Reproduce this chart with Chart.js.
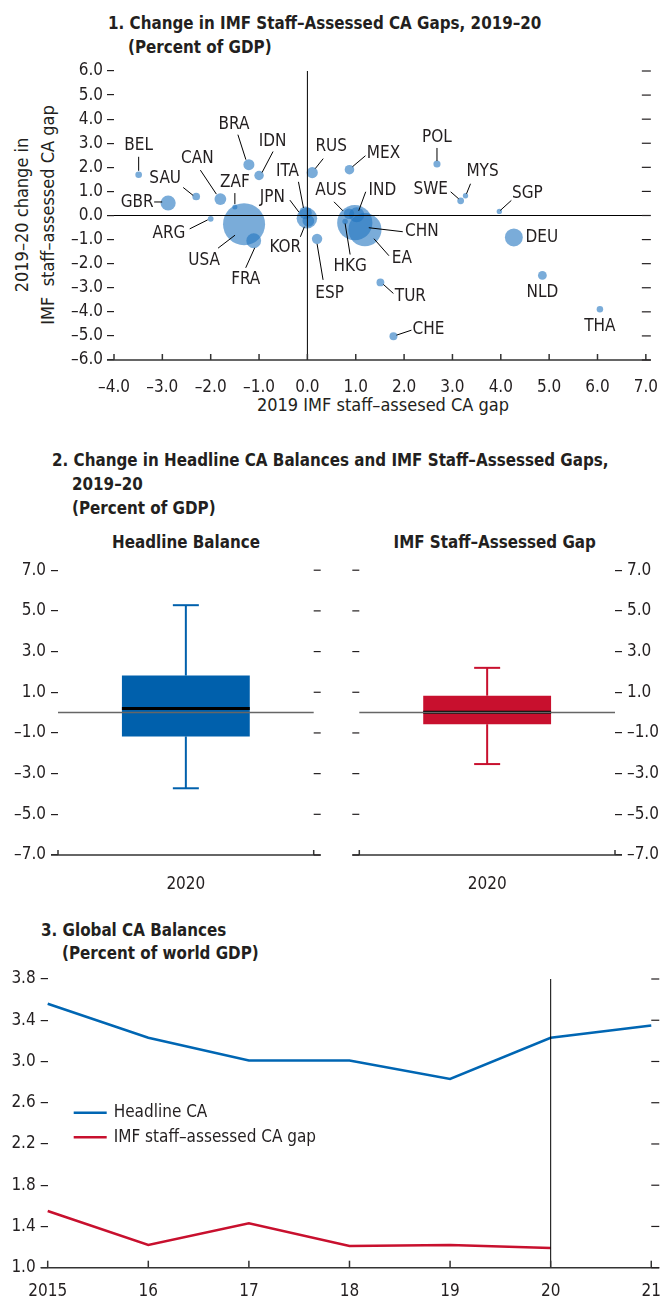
<!DOCTYPE html>
<html><head><meta charset="utf-8">
<script src="https://cdn.jsdelivr.net/npm/chart.js@4.4.1/dist/chart.umd.min.js"></script>
<style>
html,body{margin:0;padding:0;background:#fff;}
body{width:667px;height:1296px;position:relative;overflow:hidden;font-family:'Liberation Sans Narrow','Arial Narrow','DejaVu Sans Condensed',sans-serif;color:#231f20;}
.t{position:absolute;font-weight:bold;font-size:18px;white-space:nowrap;line-height:20px;transform:scaleX(0.935);transform-origin:0 50%;}
.tc{transform-origin:50% 50%;}
.r{position:absolute;font-size:18px;white-space:nowrap;line-height:20px;width:320px;height:20px;text-align:center;transform:rotate(-90deg);}
.c{position:absolute;font-size:18px;white-space:nowrap;line-height:20px;text-align:center;}
canvas{position:absolute;}
</style></head><body>
<div class="t" style="left:108px;top:13px">1. Change in IMF Staff–Assessed CA Gaps, 2019–20</div>
<div class="t" style="left:128px;top:37px">(Percent of GDP)</div>
<div class="r" style="left:-138px;top:205px">2019–20 change in</div>
<div class="r" style="left:-112px;top:205px">IMF&nbsp; staff–assessed CA gap</div>
<div class="c" style="left:183px;width:400px;top:395px">2019 IMF staff–assesed CA gap</div>
<canvas id="c1" width="667" height="420" style="left:0;top:0"></canvas>

<div class="t" style="left:52px;top:450px">2. Change in Headline CA Balances and IMF Staff–Assessed Gaps,</div>
<div class="t" style="left:72px;top:474px">2019–20</div>
<div class="t" style="left:72px;top:498px">(Percent of GDP)</div>
<div class="t tc" style="left:86px;width:200px;text-align:center;top:532px">Headline Balance</div>
<div class="t tc" style="left:387px;width:200px;text-align:center;top:532px">IMF Staff–Assessed Gap</div>
<canvas id="c2a" width="335" height="345" style="left:0;top:555px"></canvas>
<canvas id="c2b" width="332" height="345" style="left:335px;top:555px"></canvas>

<div class="t" style="left:41px;top:920px">3. Global CA Balances</div>
<div class="t" style="left:62px;top:943px">(Percent of world GDP)</div>
<canvas id="c3" width="667" height="336" style="left:0;top:960px"></canvas>

<script>
// ---------- Panel 1 data ----------
const countries = ['BEL','GBR','SAU','CAN','ZAF','BRA','IDN','ARG','USA','FRA','JPN','ITA','KOR','RUS','MEX','AUS','IND','HKG','CHN','EA','ESP','TUR','CHE','POL','SWE','MYS','SGP','DEU','NLD','THA'];
const gap2019 = [-3.49,-2.88,-2.30,-1.80,-1.50,-1.21,-1.00,-2.00,-1.31,-1.11,-0.01,-0.04,0.02,0.10,0.87,0.86,1.02,0.78,0.98,1.19,0.20,1.51,1.78,2.68,3.17,3.27,3.97,4.27,4.86,6.05];
const gapChange = [1.69,0.52,0.79,0.68,0.35,2.11,1.66,-0.14,-0.36,-1.05,-0.11,0.11,-0.22,1.78,1.90,0.07,0.03,-0.25,-0.30,-0.59,-0.97,-2.78,-5.01,2.14,0.61,0.82,0.17,-0.91,-2.49,-3.89];
const gdpWeight = [0.52,2.7,0.7,1.64,0.3,1.44,1.06,0.39,20.9,2.6,5.0,1.9,1.64,1.48,1.08,1.3,2.7,0.35,14.7,13.0,1.28,0.72,0.75,0.6,0.54,0.34,0.34,3.8,0.91,0.5];
const xTicks1 = [-4,-3,-2,-1,0,1,2,3,4,5,6,7];
const yTicks1 = [-6,-5,-4,-3,-2,-1,0,1,2,3,4,5,6];

// ---------- Panel 2 data (min, q1, median, q3, max) ----------
const boxCategory = ['2020'];
const headlineStats = [-3.72,-1.17,0.20,1.82,5.28];
const gapStats = [-2.53,-0.57,0.02,0.83,2.20];

// ---------- Panel 3 data ----------
const years = ['2015','16','17','18','19','20','21'];
const headlineCA = [3.56,3.23,3.01,3.01,2.83,3.23,3.35];
const gapCA = [1.55,1.22,1.43,1.21,1.22,1.19,null];

// ---------- annotation layout (label offset, leader line from/to, px from bubble) ----------
const labelLayout = {
 BEL:[0,-29,0,-18,0,-4], GBR:[-31,0,-14,-1,-6,-1], SAU:[-31,-18,-13,-9,-3,-1], CAN:[-23,-41,-20,-29,-4,-5],
 ZAF:[0,-24,0,-14,0,-3], BRA:[-15,-40,-11,-30,-3,-5], IDN:[13.5,-34,14,-24,3,-3], ARG:[-41.7,15,-21,10,-3,1],
 USA:[-40,36,-26,24,-9,11], FRA:[-8,39,-8,27,1,7], JPN:[-34.6,-20.8,-17,-18,-8,-6], ITA:[-18,-41,-7,-31,-2,-5],
 KOR:[-23,26.5,-8,16,-4,6], RUS:[19,-26,11,-14,3,-4], MEX:[34,-16,16,-14,3,-3], AUS:[-18,-23,-15,-12,-6,-3],
 IND:[25.7,-24,9,-23,2,-4], HKG:[5,45,5,33,0,2], CHN:[67,9,48,9,14,5], EA:[37,29,24,26,9,9],
 ESP:[12.5,54.5,0,5,6,41], TUR:[30,14,3,2,13,11], CHE:[35,-7,3,-1,18,-6], POL:[0,-26,0,-16,0,-3],
 SWE:[-30,-11,-10,-9,-2,-2], MYS:[17,-24,5,-12,1,-2], SGP:[28,-18,12,-11,1,-1], DEU:[28,0], NLD:[0,17], THA:[0,17]
};

const FONT = "'Liberation Sans Narrow','Arial Narrow','DejaVu Sans Condensed',sans-serif";
Chart.defaults.font.family = FONT;
Chart.defaults.font.size = 17;
Chart.defaults.color = '#231f20';
Chart.defaults.animation = false;
Chart.defaults.plugins.legend.display = false;
Chart.defaults.plugins.tooltip.enabled = false;

const fmt = v => (v < 0 ? '–' : '') + Math.abs(v).toFixed(1);
const INK = '#231f20';
function seg(ctx, x1, y1, x2, y2){ ctx.beginPath(); ctx.moveTo(x1,y1); ctx.lineTo(x2,y2); ctx.stroke(); }

// ---------- Panel 1 ----------
const scatterDecor = {
  id:'scatterDecor',
  afterDatasetsDraw(chart){
    const {ctx, chartArea:a, scales:{x,y}} = chart;
    ctx.save();
    ctx.strokeStyle = '#000'; ctx.lineWidth = 1;
    const x0 = x.getPixelForValue(0), y0 = y.getPixelForValue(0);
    seg(ctx, a.left, y0, a.right, y0);
    seg(ctx, x0, a.top, x0, a.bottom);
    ctx.strokeStyle = '#333'; ctx.lineWidth = 1.5;
    seg(ctx, a.left-7, a.bottom, a.right+5, a.bottom);
    x.ticks.forEach(t => { const p = x.getPixelForValue(t.value); seg(ctx, p, a.bottom, p, a.bottom-6); });
    ctx.lineWidth = 1.2; ctx.strokeStyle = INK;
    y.ticks.forEach(t => { const p = y.getPixelForValue(t.value); seg(ctx, a.right-4, p, a.right+5, p); });
    // labels
    const meta = chart.getDatasetMeta(0);
    ctx.font = '17px ' + FONT; ctx.fillStyle = INK; ctx.textAlign = 'center'; ctx.textBaseline = 'middle';
    ctx.strokeStyle = '#000'; ctx.lineWidth = 1;
    countries.forEach((c, i) => {
      const el = meta.data[i]; const L = labelLayout[c]; if (!L) return;
      ctx.fillText(c, el.x + L[0], el.y + L[1]);
      if (L.length > 2) seg(ctx, el.x + L[2], el.y + L[3], el.x + L[4], el.y + L[5]);
    });
    ctx.restore();
  }
};
new Chart(document.getElementById('c1'), {
  type:'bubble',
  data:{ datasets:[{
    data: countries.map((c,i) => ({x:gap2019[i], y:gapChange[i], r:4.6*Math.sqrt(gdpWeight[i])})),
    backgroundColor:'rgba(33,117,192,0.6)', borderWidth:0, hoverRadius:0
  }]},
  options:{
    responsive:false, events:[],
    layout:{padding:{top:71, right:15, left:0, bottom:0}},
    scales:{
      x:{type:'linear', min:-4, max:7, afterFit(s){s.height=60;},
         afterBuildTicks(s){ s.ticks = xTicks1.map(v=>({value:v})); },
         ticks:{callback:fmt, padding:9, maxRotation:0, autoSkip:false},
         grid:{display:false}, border:{display:false}},
      y:{type:'linear', min:-6, max:6, afterFit(s){s.width=114;},
         afterBuildTicks(s){ s.ticks = yTicks1.map(v=>({value:v})); },
         ticks:{callback:fmt, padding:4},
         grid:{drawOnChartArea:false, tickLength:7, color:INK, lineWidth:1.2}, border:{display:false}}
    }
  },
  plugins:[scatterDecor]
});

// ---------- Panel 2 ----------
function boxPlugin(stats, color, side){
  return {
    id:'box'+side,
    afterDatasetsDraw(chart){
      const {ctx, chartArea:a, scales:{x,y}} = chart;
      const el = chart.getDatasetMeta(0).data[0];
      const cx = el.x, hw = el.width/2, cap = 13;
      const [mn,q1,md,q3,mx] = stats.map(v => y.getPixelForValue(v));
      ctx.save();
      ctx.strokeStyle = color; ctx.lineWidth = 2;
      seg(ctx, cx, q3, cx, mx); seg(ctx, cx-cap, mx, cx+cap, mx);
      seg(ctx, cx, q1, cx, mn); seg(ctx, cx-cap, mn, cx+cap, mn);
      ctx.strokeStyle = '#000'; ctx.lineWidth = 3;
      seg(ctx, cx-hw, md, cx+hw, md);
      ctx.strokeStyle = '#666'; ctx.lineWidth = 1.5;
      const z = y.getPixelForValue(0);
      seg(ctx, a.left, z, a.right, z);
      ctx.strokeStyle = '#333'; ctx.lineWidth = 1.5;
      seg(ctx, a.left-7, a.bottom, a.right+7, a.bottom);
      seg(ctx, a.left, a.bottom, a.left, a.bottom-5);
      seg(ctx, a.right, a.bottom, a.right, a.bottom-5);
      ctx.strokeStyle = INK; ctx.lineWidth = 1.2;
      y.ticks.forEach(t => { const p = y.getPixelForValue(t.value);
        if (side === 'left') seg(ctx, a.right, p, a.right+7, p); else seg(ctx, a.left-7, p, a.left, p); });
      ctx.restore();
    }
  };
}
function boxChart(id, stats, color, side, pad){
  new Chart(document.getElementById(id), {
    type:'bar',
    data:{ labels:boxCategory, datasets:[{ data:[[stats[1], stats[3]]], backgroundColor:color,
      borderWidth:0, barPercentage:0.5, categoryPercentage:1 }]},
    options:{
      responsive:false, events:[],
      layout:{padding:pad},
      scales:{
        x:{afterFit(s){s.height=45;}, ticks:{padding:11}, grid:{display:false}, border:{display:false}},
        y:{position:side, min:-7, max:7, afterFit(s){s.width= side==='left'?58:52;},
           ticks:{stepSize:2, callback:fmt, padding:5},
           grid:{drawOnChartArea:false, tickLength:7, color:INK, lineWidth:1.2}, border:{display:false}}
      }
    },
    plugins:[boxPlugin(stats, color, side)]
  });
}
boxChart('c2a', headlineStats, '#0060ac', 'left', {top:12.7, right:21.3, left:0, bottom:0});
boxChart('c2b', gapStats, '#c8102e', 'right', {top:12.7, right:0, left:24.3, bottom:0});

// ---------- Panel 3 ----------
const lineDecor = {
  id:'lineDecor',
  afterDatasetsDraw(chart){
    const {ctx, chartArea:a, scales:{x,y}} = chart;
    ctx.save();
    ctx.strokeStyle = '#000'; ctx.lineWidth = 1;
    const xv = x.getPixelForValue(years.indexOf('20'));
    seg(ctx, xv, a.top, xv, a.bottom);
    ctx.strokeStyle = '#333'; ctx.lineWidth = 1.5;
    seg(ctx, a.left-7, a.bottom, a.right+8, a.bottom);
    years.forEach((yr,i) => { const p = x.getPixelForValue(i); seg(ctx, p, a.bottom, p, a.bottom-7); });
    ctx.strokeStyle = INK; ctx.lineWidth = 1.2;
    y.ticks.forEach(t => { const p = y.getPixelForValue(t.value); seg(ctx, a.right, p, a.right+8, p); });
    // legend
    ctx.font = '17px ' + FONT; ctx.textAlign = 'left'; ctx.textBaseline = 'middle'; ctx.fillStyle = INK;
    chart.data.datasets.forEach((ds, i) => {
      const ly = a.top + 133.7 + i*24.6;
      ctx.strokeStyle = ds.borderColor; ctx.lineWidth = 2.5;
      seg(ctx, a.left + 26, ly, a.left + 59, ly);
      ctx.fillText(ds.label, a.left + 66, ly);
    });
    ctx.restore();
  }
};
new Chart(document.getElementById('c3'), {
  type:'line',
  data:{ labels:years, datasets:[
    {label:'Headline CA', data:headlineCA, borderColor:'#0066b3', borderWidth:2.5, pointRadius:0, tension:0},
    {label:'IMF staff–assessed CA gap', data:gapCA, borderColor:'#c8102e', borderWidth:2.5, pointRadius:0, tension:0}
  ]},
  options:{
    responsive:false, events:[],
    layout:{padding:{top:19, right:13.7, left:0, bottom:0}},
    scales:{
      x:{offset:false, afterFit(s){s.height=28.3;}, ticks:{padding:6, maxRotation:0, autoSkip:false},
         grid:{display:false}, border:{display:false}},
      y:{min:1.0, max:3.8, afterFit(s){s.width=47.7;},
         ticks:{stepSize:0.4, callback:v=>v.toFixed(1), padding:5},
         grid:{drawOnChartArea:false, tickLength:7, color:INK, lineWidth:1.2}, border:{display:false}}
    }
  },
  plugins:[lineDecor]
});
</script>
</body></html>
